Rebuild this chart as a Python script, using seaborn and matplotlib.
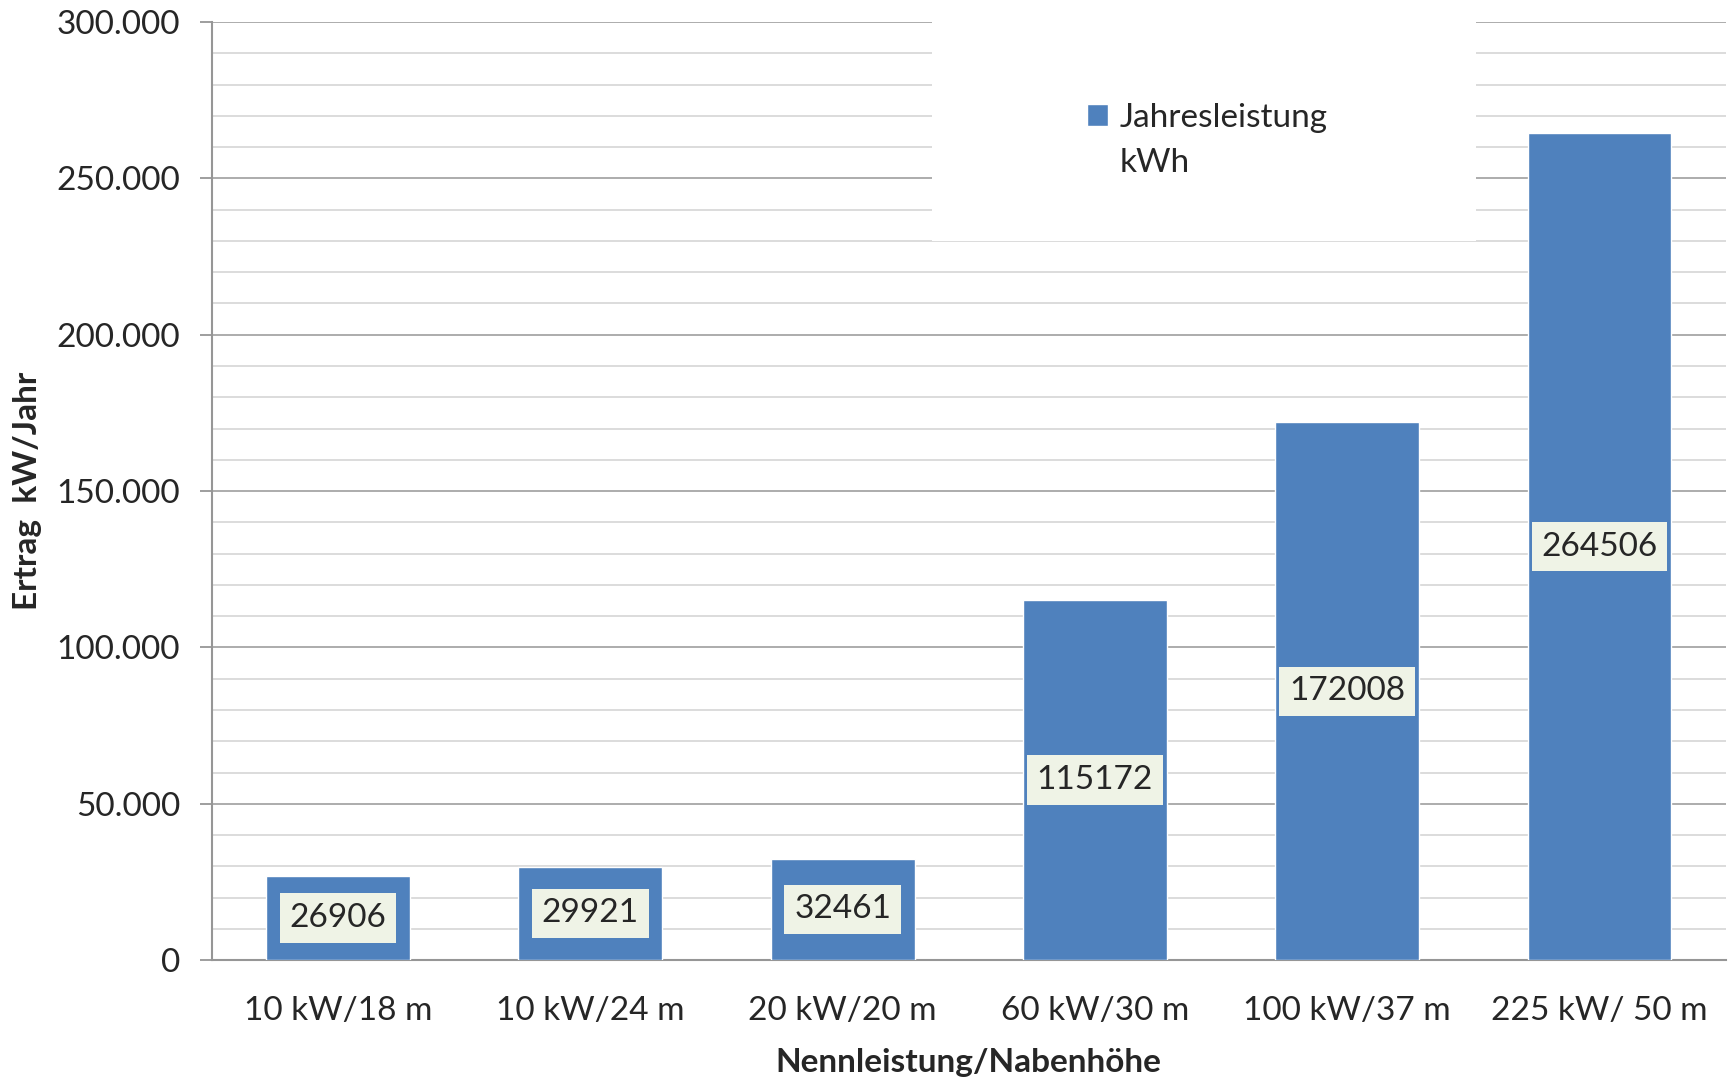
import pandas as pd
import matplotlib.pyplot as plt
import seaborn as sns
from matplotlib.ticker import MultipleLocator, FuncFormatter
from matplotlib.patches import Rectangle

kategorien = ["10 kW/18 m", "10 kW/24 m", "20 kW/20 m", "60 kW/30 m", "100 kW/37 m", "225 kW/ 50 m"]
jahresleistung = [26906, 29921, 32461, 115172, 172008, 264506]

df = pd.DataFrame({"anlage": kategorien, "kwh": jahresleistung})

sns.set_style("white")
plt.rcParams["font.family"] = ["Lato", "DejaVu Sans"]

fig = plt.figure(figsize=(17.29, 10.8), dpi=100)
ax = fig.add_axes([0.1226, 0.111, 0.8754, 0.8686])

sns.barplot(data=df, x="anlage", y="kwh", color="#4F81BD", saturation=1,
            width=0.57, ax=ax, label="Jahresleistung", zorder=3)

ax.set_ylim(0, 300000)
ax.yaxis.set_major_locator(MultipleLocator(50000))
ax.yaxis.set_minor_locator(MultipleLocator(10000))
ax.yaxis.set_major_formatter(FuncFormatter(lambda v, p: f"{int(v):,}".replace(",", ".")))
ax.grid(axis="y", which="major", color="#a6a6a6", linewidth=1.3, zorder=0)
ax.grid(axis="y", which="minor", color="#d9d9d9", linewidth=1.3, zorder=0)
ax.set_axisbelow(True)

for s in ["top", "right"]:
    ax.spines[s].set_visible(False)
for s in ["left", "bottom"]:
    ax.spines[s].set_color("#969696")
    ax.spines[s].set_linewidth(1.5)

ax.tick_params(axis="y", which="major", direction="out", length=9, width=1.3,
               color="#969696", labelsize=24, pad=14, left=True)
ax.tick_params(axis="y", which="minor", length=0)
ax.tick_params(axis="x", length=0, labelsize=24, pad=26)

ax.set_xlabel("Nennleistung/Nabenhöhe", fontsize=24, fontweight="bold", labelpad=16)
ax.set_ylabel("Ertrag  kW/Jahr", fontsize=24, fontweight="bold", labelpad=10)

for c in ax.containers:
    ax.bar_label(c, labels=[str(v) for v in jahresleistung], label_type="center",
                 fontsize=24, zorder=5,
                 bbox=dict(facecolor="#EFF3E6", edgecolor="none", pad=7))

# weisser Hintergrund der Legende
ax.add_patch(Rectangle((0.476, 0.767), 0.359, 0.24, transform=ax.transAxes,
                       facecolor="white", edgecolor="none", zorder=2, clip_on=False))
handles, labels = ax.get_legend_handles_labels()
handles.append(Rectangle((0, 0), 1, 1, facecolor="none", edgecolor="none"))
labels.append("kWh")
ax.legend(handles, labels, loc="upper left", bbox_to_anchor=(0.569, 0.928), frameon=False,
          fontsize=24, handlelength=0.65, handleheight=0.65, handletextpad=0.35,
          borderaxespad=0, labelspacing=0.45)

fig.savefig("out.png", dpi=100)
